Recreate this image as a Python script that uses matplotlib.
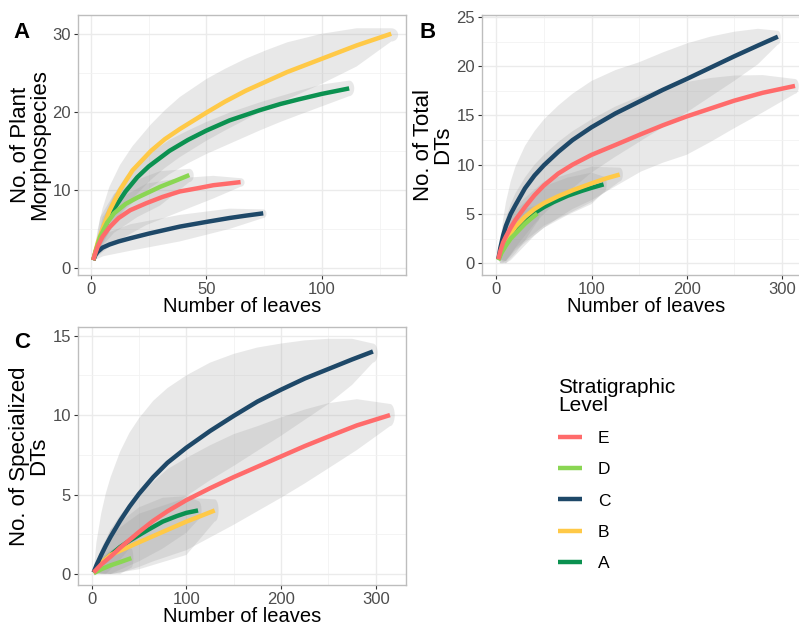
import numpy as np
import matplotlib
matplotlib.use("Agg")
import matplotlib.pyplot as plt
from matplotlib.lines import Line2D

plt.rcParams['font.family'] = ['Liberation Sans', 'DejaVu Sans']

levels = ["E", "D", "C", "B", "A"]
colors = {"E": "#FF6B6B", "D": "#8AD653", "C": "#1E4868", "B": "#FFC947", "A": "#0B9150"}

# ---- panel A: plant morphospecies (curves) ----
morpho_x = {
    "E": [1, 2, 3, 5, 8, 12, 17, 24, 31, 38.5, 46, 53, 59, 64.8],
    "D": [1, 2, 4, 7, 10, 15, 20, 25, 30, 36, 42.6],
    "C": [1, 2, 3, 5, 8, 12, 17, 25, 38.5, 50, 60, 67, 74.6],
    "B": [1, 2, 3, 5, 8, 12.6, 18, 26, 32, 38.5, 50, 58, 67, 76, 85, 100, 115, 130],
    "A": [1, 2, 3, 5, 7, 10, 15, 20, 25, 34, 42, 50, 60, 73, 82, 90, 100, 111.8],
}
morpho_y = {
    "E": [1, 2.0, 2.8, 4.0, 5.2, 6.4, 7.4, 8.3, 9.1, 9.8, 10.2, 10.6, 10.8, 11.0],
    "D": [1, 2.1, 4.0, 5.8, 7.0, 8.2, 9.0, 9.7, 10.4, 11.1, 11.9],
    "C": [1, 1.7, 2.1, 2.6, 3.0, 3.4, 3.8, 4.4, 5.3, 5.9, 6.4, 6.7, 7.0],
    "B": [1, 2.2, 3.3, 5.0, 7.3, 10.0, 12.5, 15.0, 16.5, 17.8, 19.9, 21.3, 22.7, 23.9,
          25.1, 26.8, 28.5, 30.0],
    "A": [1, 2.0, 3.0, 4.6, 5.9, 7.6, 9.8, 11.6, 13.0, 15.0, 16.4, 17.6, 18.9, 20.2,
          21.0, 21.6, 22.3, 23.0],
}
# confidence bands
morpho_band_x = {
    "E": [1, 5, 10, 24, 38.5, 53, 64.8],
    "D": [1, 4, 10, 20, 30, 42.6],
    "C": [1, 3, 5.3, 17, 38.5, 60, 74.6],
    "B": morpho_x["B"],
    "A": morpho_x["A"],
}
morpho_lo = {
    "E": [1, 2.0, 3.2, 5.5, 7.2, 8.9, 10.4],
    "D": [1, 2.5, 4.5, 6.5, 8.0, 11.0],
    "C": [1, 1.2, 1.5, 2.2, 3.4, 5.0, 6.4],
    "B": [1, 1.5, 2.0, 3.0, 4.6, 6.8, 8.9, 11.3, 12.8, 14.2, 16.3, 17.6, 19.0, 20.4,
          21.6, 23.6, 25.8, 29.0],
    "A": [1, 1.5, 2.1, 3.2, 4.2, 5.6, 7.5, 8.9, 10.1, 12.0, 13.4, 14.6, 15.9, 17.6,
          18.7, 19.6, 20.7, 22.0],
}
morpho_hi = {
    "E": [1, 6.5, 8.5, 10.8, 11.5, 11.8, 11.5],
    "D": [1, 6.5, 9.5, 11.3, 12.4, 12.7],
    "C": [1, 3.5, 4.3, 5.6, 6.8, 7.6, 7.5],
    "B": [1, 3.2, 5.0, 7.6, 10.4, 13.2, 15.6, 18.4, 20.2, 21.9, 24.2, 25.5, 26.8, 27.9,
          28.9, 30.0, 30.7, 30.7],
    "A": [1, 2.6, 3.8, 5.9, 7.5, 9.4, 11.7, 13.3, 14.6, 16.4, 17.6, 18.7, 19.9, 21.2,
          22.0, 22.7, 23.5, 24.0],
}
morpho_cap = {"E": 66.5, "D": 44.5, "C": 76, "B": 133, "A": 114}

# ---- panel B: total DTs ----
total_x = {
    "E": [2, 4, 7, 10, 15, 20, 30, 40, 50, 65, 80, 100, 125, 152, 175, 200, 225, 250, 280, 314],
    "D": [2, 5, 10, 15, 20, 25, 30, 36, 43],
    "C": [2, 4, 7, 10, 15, 20, 30, 40, 50, 65, 80, 100, 125, 150, 175, 200, 225, 250, 275, 296],
    "B": [2, 5, 10, 15, 20, 30, 40, 50, 65, 80, 100, 115, 129.6],
    "A": [2, 5, 10, 15, 20, 30, 40, 50, 60, 75, 90, 100, 112.7],
}
total_y = {
    "E": [0.4, 1.2, 2.1, 2.7, 3.6, 4.4, 5.7, 6.9, 7.9, 9.1, 10.0, 11.0, 12.0, 13.1, 14.0,
          14.9, 15.7, 16.5, 17.3, 18.0],
    "D": [0.3, 1.0, 1.8, 2.5, 3.0, 3.5, 4.0, 4.5, 5.05],
    "C": [0.4, 1.5, 2.8, 3.8, 5.0, 5.9, 7.6, 8.9, 9.95, 11.3, 12.5, 13.8, 15.2, 16.4, 17.6,
          18.7, 19.85, 21.0, 22.1, 23.0],
    "B": [0.4, 1.3, 2.2, 3.0, 3.7, 4.7, 5.5, 6.1, 6.8, 7.4, 8.1, 8.6, 9.0],
    "A": [0.4, 1.2, 2.0, 2.7, 3.3, 4.3, 5.1, 5.7, 6.2, 6.85, 7.35, 7.65, 8.0],
}
total_band_x = {
    "E": total_x["E"],
    "D": [2, 10, 20, 30, 43],
    "C": total_x["C"],
    "B": [2, 10, 20, 50, 100, 129.6],
    "A": [2, 10, 20, 50, 75, 100, 112.7],
}
total_lo = {
    "E": [0.4, 0, 0, 0, 0.3, 0.8, 1.8, 2.8, 3.6, 4.6, 5.5, 6.4, 7.8, 9.3, 10.2, 11.0,
          12.3, 13.7, 15.3, 17.2],
    "D": [0.3, 0.0, 1.0, 2.3, 4.2],
    "C": [0.4, 0, 0, 0.3, 0.9, 1.6, 2.8, 4.0, 5.0, 6.4, 7.6, 9.2, 10.8, 12.3, 13.8, 15.3,
          16.9, 18.5, 20.2, 22.2],
    "B": [0.4, 0.2, 1.5, 3.8, 6.2, 8.3],
    "A": [0.4, 0.2, 1.3, 3.6, 4.9, 6.0, 7.2],
}
total_hi = {
    "E": [0.4, 1.8, 3.4, 4.6, 6.0, 7.1, 8.7, 10.0, 11.0, 12.3, 13.4, 14.6, 15.9, 17.0,
          17.8, 18.4, 18.8, 19.05, 19.1, 18.7],
    "D": [0.3, 3.0, 4.5, 5.5, 5.9],
    "C": [0.4, 2.2, 4.4, 6.2, 8.3, 9.8, 11.9, 13.4, 14.6, 16.0, 17.2, 18.5, 19.6, 20.4,
          21.4, 22.3, 23.0, 23.5, 23.8, 23.6],
    "B": [0.4, 4.0, 5.8, 8.3, 9.8, 9.7],
    "A": [0.4, 3.8, 5.4, 7.8, 8.7, 9.2, 8.8],
}
total_cap = {"E": 318, "D": 45.5, "C": 299, "B": 133, "A": 116}

# ---- panel C: specialized DTs ----
spec_x = {
    "E": [2, 10, 20, 30, 40, 50, 65, 80, 100, 125, 150, 175, 200, 225, 250, 280, 315],
    "D": [2, 10, 20, 30, 41.8],
    "C": [2, 5, 10, 15, 20, 30, 40, 50, 65, 80, 100, 125, 150, 175, 200, 225, 250, 275, 297],
    "B": [2, 10, 20, 35, 50, 75, 100, 115, 129.9],
    "A": [2, 10, 20, 30, 40, 50, 60, 75, 90, 100, 112.3],
}
spec_y = {
    "E": [0.1, 0.6, 1.1, 1.65, 2.15, 2.65, 3.35, 3.95, 4.65, 5.4, 6.1, 6.75, 7.4, 8.05,
          8.65, 9.35, 10.0],
    "D": [0.05, 0.3, 0.55, 0.75, 1.0],
    "C": [0.1, 0.55, 1.2, 1.8, 2.35, 3.35, 4.25, 5.05, 6.1, 7.0, 7.95, 9.0, 9.95, 10.85,
          11.6, 12.3, 12.9, 13.5, 14.0],
    "B": [0.1, 0.7, 1.2, 1.6, 2.0, 2.65, 3.3, 3.65, 4.0],
    "A": [0.1, 0.65, 1.2, 1.7, 2.1, 2.45, 2.8, 3.3, 3.65, 3.85, 4.0],
}
spec_band_x = {
    "E": spec_x["E"],
    "D": [2, 10, 20, 30, 41.8],
    "C": spec_x["C"],
    "B": [2, 20, 50, 100, 129.9],
    "A": [2, 20, 50, 75, 100, 112.3],
}
spec_lo = {
    "E": [0.1, 0, 0, 0.1, 0.25, 0.45, 0.8, 1.1, 1.5, 2.3, 3.1, 3.95, 4.8, 5.7, 6.65, 7.8, 9.3],
    "D": [0.05, 0.0, 0.0, 0.0, 0.4],
    "C": [0.1, 0, 0, 0, 0.3, 0.9, 1.6, 2.3, 3.2, 4.0, 4.9, 5.9, 6.8, 7.75, 8.7, 9.7, 10.7,
          11.9, 13.3],
    "B": [0.1, 0.0, 0.3, 1.2, 3.3],
    "A": [0.1, 0.0, 0.8, 1.6, 2.6, 3.4],
}
spec_hi = {
    "E": [0.1, 1.6, 2.8, 3.7, 4.4, 5.0, 5.8, 6.6, 7.3, 8.1, 8.8, 9.3, 9.85, 10.35, 10.75,
          11.0, 10.7],
    "D": [0.05, 1.0, 1.5, 1.8, 1.6],
    "C": [0.1, 2.0, 3.8, 5.1, 6.1, 7.7, 8.9, 9.8, 10.9, 11.7, 12.5, 13.3, 13.85, 14.25,
          14.5, 14.7, 14.8, 14.8, 14.5],
    "B": [0.1, 2.5, 3.8, 4.8, 4.7],
    "A": [0.1, 2.8, 4.2, 4.8, 4.9, 4.6],
}
spec_cap = {"E": 320, "D": 44, "C": 302, "B": 134, "A": 116}

fig = plt.figure(figsize=(7.99, 6.26), dpi=100)


def band_polygon(x, lo, hi, cap):
    # ribbon closed by a rounded end just past the last point
    x = np.asarray(x, float)
    lo = np.asarray(lo, float)
    hi = np.asarray(hi, float)
    mid = (hi[-1] + lo[-1]) / 2
    half = (hi[-1] - lo[-1]) / 2
    d = cap - x[-1]
    ang = np.linspace(np.pi / 2, -np.pi / 2, 15)
    cx = x[-1] + d * np.cos(ang)
    cy = mid + half * np.sin(ang)
    px = np.concatenate([x, cx[1:-1], x[::-1]])
    py = np.concatenate([hi, cy[1:-1], lo[::-1]])
    return px, py


def draw_panel(ax, xs, ys, bx, los, his, caps, xlim, ylim, xt, xminor, yt, yminor, ylabel):
    for lev in ["A", "B", "C", "D", "E"]:
        px, py = band_polygon(bx[lev], los[lev], his[lev], caps[lev])
        ax.fill(px, py, color="#999999", alpha=0.22, lw=0, zorder=1)
    for lev in ["A", "B", "C", "D", "E"]:
        ax.plot(xs[lev], ys[lev], color=colors[lev], lw=3.2,
                solid_capstyle="butt", solid_joinstyle="round", zorder=3)
    ax.set_xlim(*xlim)
    ax.set_ylim(*ylim)
    ax.set_xticks(xt)
    ax.set_xticks(xminor, minor=True)
    ax.set_yticks(yt)
    ax.set_yticks(yminor, minor=True)
    ax.grid(which="major", color="#EBEBEB", lw=1.0, zorder=0)
    ax.grid(which="minor", color="#F2F2F2", lw=0.6, zorder=0)
    ax.set_axisbelow(True)
    for s in ax.spines.values():
        s.set_color("#BDBDBD")
        s.set_linewidth(1.0)
    ax.tick_params(which="major", length=3, color="#333333", labelsize=12,
                   labelcolor="#4D4D4D", pad=2)
    ax.tick_params(which="minor", length=0)
    ax.set_xlabel("Number of leaves", fontsize=14.5, labelpad=0)
    ax.set_ylabel(ylabel, fontsize=16, linespacing=0.88, labelpad=2)


axA = fig.add_axes([78 / 799, 1 - 275 / 626, 328 / 799, 260 / 626])
draw_panel(axA, morpho_x, morpho_y, morpho_band_x, morpho_lo, morpho_hi, morpho_cap,
           (-5.6, 136.4), (-0.9, 32.4), [0, 50, 100], [25, 75, 125],
           [0, 10, 20, 30], [5, 15, 25], "No. of Plant\nMorphospecies")

axB = fig.add_axes([481.7 / 799, 1 - 275 / 626, 329 / 799, 260 / 626])
draw_panel(axB, total_x, total_y, total_band_x, total_lo, total_hi, total_cap,
           (-15.5, 330.5), (-1.2, 25.2), [0, 100, 200, 300], [50, 150, 250],
           [0, 5, 10, 15, 20, 25], [2.5, 7.5, 12.5, 17.5, 22.5], "No. of Total\nDTs")

axC = fig.add_axes([77.7 / 799, 1 - 585 / 626, 328.3 / 799, 258.3 / 626])
draw_panel(axC, spec_x, spec_y, spec_band_x, spec_lo, spec_hi, spec_cap,
           (-14.8, 331.9), (-0.69, 15.56), [0, 100, 200, 300], [50, 150, 250],
           [0, 5, 10, 15], [2.5, 7.5, 12.5], "No. of Specialized\nDTs")

for letter, (px, py) in zip("ABC", [(22, 32), (428, 32), (22, 342)]):
    fig.text(px / 799, 1 - py / 626, letter, fontsize=16, fontweight="bold",
             ha="center", va="center")

handles = [Line2D([], [], color=colors[l], lw=3.2, solid_capstyle="butt") for l in levels]
leg = fig.legend(handles, levels, title="Stratigraphic\nLevel", loc="upper left",
                 bbox_to_anchor=(551 / 799, 1 - 371 / 626), frameon=False,
                 fontsize=12.5, title_fontsize=15, handlelength=1.4,
                 handletextpad=0.9, labelspacing=0.92, borderaxespad=0)
leg._legend_box.align = "left"
leg.get_title().set_linespacing(0.95)

fig.savefig("out.png", dpi=100)
